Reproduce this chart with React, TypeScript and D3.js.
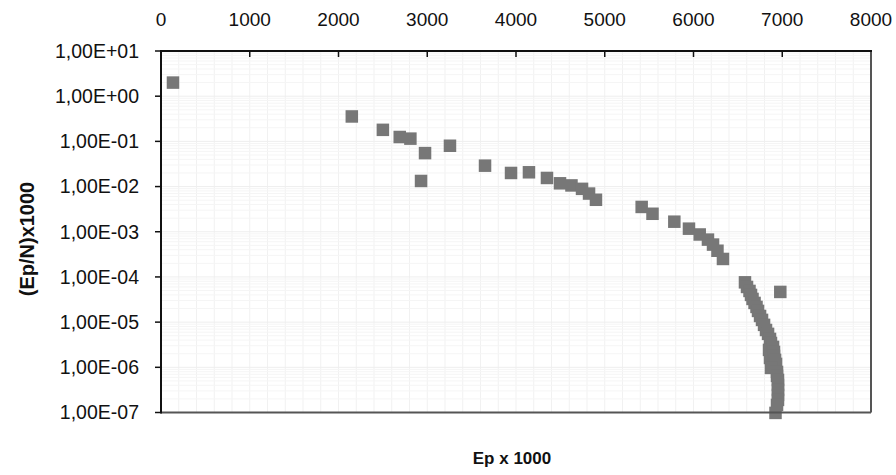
import React from "react";
import * as d3 from "d3";

const xTicks = [0, 1000, 2000, 3000, 4000, 5000, 6000, 7000, 8000];
const yTicks = [1e1, 1e0, 1e-1, 1e-2, 1e-3, 1e-4, 1e-5, 1e-6, 1e-7];
const yTickLabels = ["1,00E+01", "1,00E+00", "1,00E-01", "1,00E-02", "1,00E-03", "1,00E-04", "1,00E-05", "1,00E-06", "1,00E-07"];

const epX = [
  135, 2150, 2500, 2690, 2810, 2975, 2930, 3256, 3651, 3944, 4146, 4349, 4496, 4625, 4744, 4823, 4901,
  5416, 5538, 5784, 5949, 6070, 6163, 6220, 6270, 6332, 6580, 6978,
  6603, 6631, 6648, 6665, 6688, 6710, 6727, 6750, 6772, 6795, 6817, 6840, 6862, 6873, 6851, 6896, 6907,
  6862, 6907, 6919, 6930, 6873, 6941, 6941, 6952, 6952, 6952, 6952, 6952, 6941, 6924,
];
const epNY = [
  2.0, 0.356, 0.18, 0.125, 0.115, 0.055, 0.0133, 0.08, 0.029, 0.02, 0.0207, 0.0155, 0.0118, 0.0106, 0.0089, 0.007, 0.0051,
  0.00354, 0.0025, 0.00167, 0.00117, 0.00087, 0.00067, 0.00052, 0.00038, 0.00025, 7.6e-5, 4.66e-5,
  6.0e-5, 4.9e-5, 4.0e-5, 3.26e-5, 2.66e-5, 2.17e-5, 1.77e-5, 1.37e-5, 1.12e-5, 8.7e-6, 6.7e-6, 5.5e-6, 4.25e-6, 3.46e-6, 2.43e-6, 2.83e-6, 2.19e-6,
  1.61e-6, 1.79e-6, 1.46e-6, 1.19e-6, 9.7e-7, 7.9e-7, 6.45e-7, 5.26e-7, 4.08e-7, 3.16e-7, 2.45e-7, 1.9e-7, 1.47e-7, 9.8e-8,
];

const W = 896;
const H = 475;
const left = 161;
const right = 871;
const top = 51;
const bottom = 412.5;
const FONT = "'Liberation Sans', Arial, sans-serif";

export default function App() {
  const x = d3.scaleLinear().domain([0, 8000]).range([left, right]);
  const y = d3.scaleLog().domain([1e-7, 1e1]).range([bottom, top]);

  const vGrid = d3.range(200, 8000, 200);
  const hGrid: number[] = [];
  for (let e = -7; e < 1; e++) {
    for (let m = 2; m <= 9; m++) hGrid.push(m * Math.pow(10, e));
  }
  const majorH = yTicks.slice(1, -1);
  const s = 12.5;

  return (
    <svg width={W} height={H} style={{ position: "absolute", left: 0, top: 0, background: "#fff" }} fontFamily={FONT}>
      <rect x={0} y={0} width={W} height={H} fill="#fff" />
      <g>
        {vGrid.map((v) => (
          <line key={"v" + v} x1={x(v)} x2={x(v)} y1={top} y2={bottom} stroke="#f1f1f1" strokeWidth={1} />
        ))}
        {hGrid.map((v, i) => (
          <line key={"h" + i} x1={left} x2={right} y1={y(v)} y2={y(v)} stroke="#f5f5f5" strokeWidth={1} />
        ))}
        {majorH.map((v, i) => (
          <line key={"m" + i} x1={left} x2={right} y1={y(v)} y2={y(v)} stroke="#eeeeee" strokeWidth={1} />
        ))}
      </g>
      <g>
        {epX.map((v, i) => (
          <rect key={i} x={x(v) - s / 2} y={y(epNY[i]) - s / 2} width={s} height={s} fill="#777777" />
        ))}
      </g>
      {/* frame */}
      <line x1={right} x2={right} y1={top} y2={bottom} stroke="#555" strokeWidth={2} />
      <line x1={left} x2={right} y1={bottom} y2={bottom} stroke="#555" strokeWidth={2} />
      <line x1={left} x2={right + 1} y1={top} y2={top} stroke="#111" strokeWidth={2} />
      <line x1={left} x2={left} y1={top - 1} y2={bottom + 1} stroke="#111" strokeWidth={2} />
      {/* x ticks top */}
      {xTicks.map((t) => (
        <g key={"xt" + t}>
          {t > 0 && t < 8000 && <line x1={x(t)} x2={x(t)} y1={top} y2={top + 6} stroke="#111" strokeWidth={1.5} />}
          <text x={x(t)} y={26} textAnchor="middle" fontSize={19} fill="#111">
            {t}
          </text>
        </g>
      ))}
      {/* y ticks */}
      {yTicks.map((t, i) => (
        <g key={"yt" + i}>
          <line x1={left - 6} x2={left} y1={y(t)} y2={y(t)} stroke="#111" strokeWidth={1.5} />
          <text x={139} y={y(t)} dy="0.35em" textAnchor="end" fontSize={19.5} fill="#111">
            {yTickLabels[i]}
          </text>
        </g>
      ))}
      <text x={0} y={0} transform={`translate(34, 239) rotate(-90)`} textAnchor="middle" fontSize={20} fontWeight="bold" fill="#111">
        (Ep/N)x1000
      </text>
      <text x={512} y={464} textAnchor="middle" fontSize={17} fontWeight="bold" fill="#111">
        Ep x 1000
      </text>
    </svg>
  );
}
